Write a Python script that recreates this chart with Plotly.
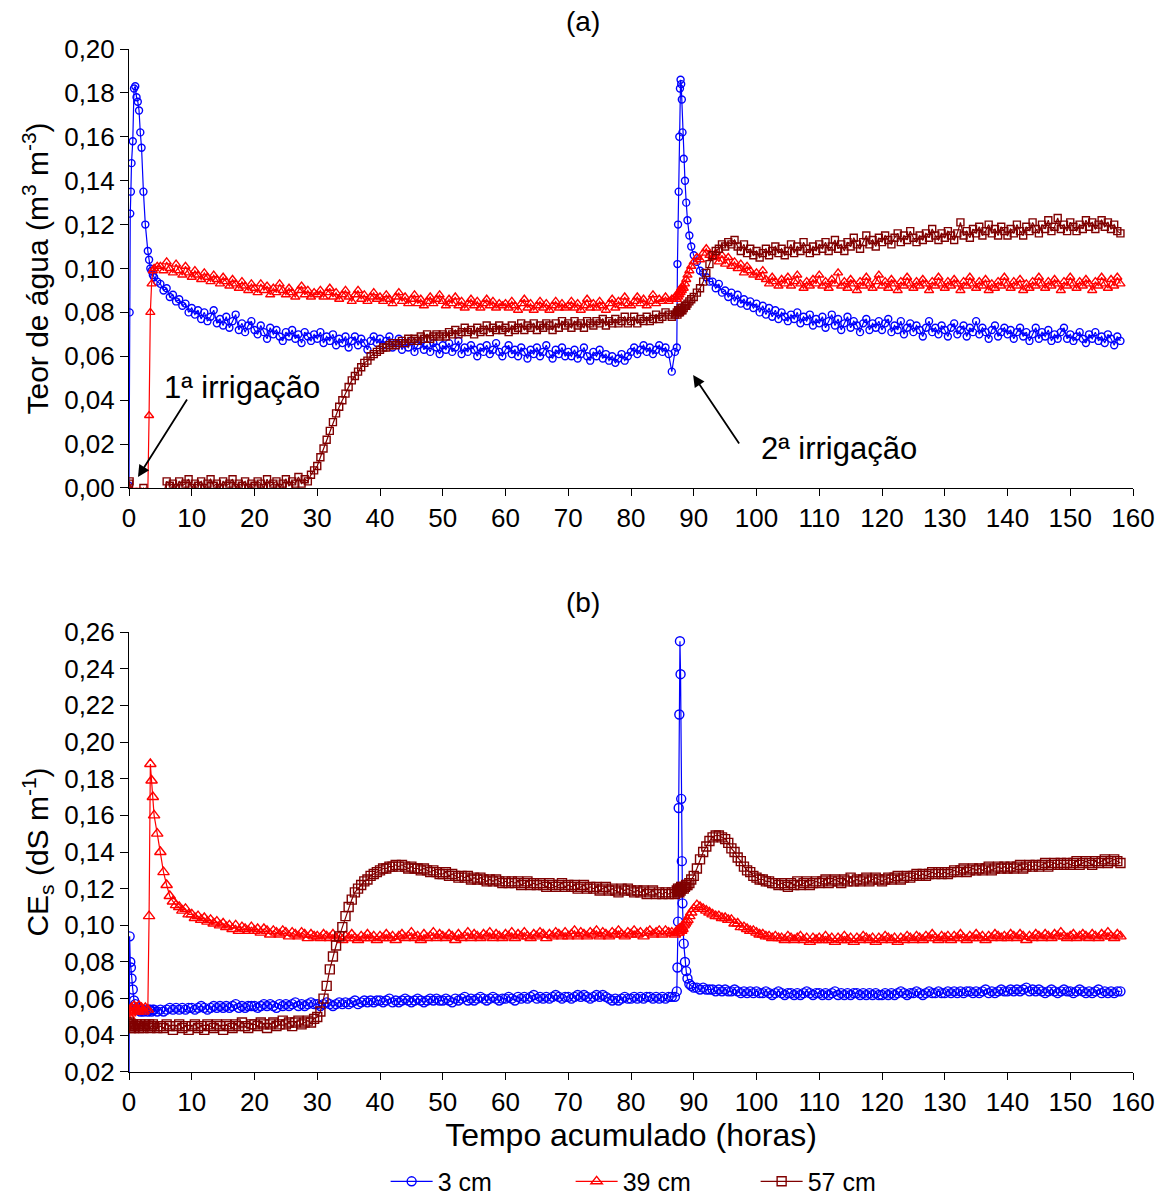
import plotly.graph_objects as go

# ---------------- time grid (hours) ----------------
hours_start = [0, 0.1, 0.2, 0.3, 0.4, 0.6, 0.8, 1.0, 1.2, 1.4, 1.6, 1.8, 2.0, 2.3, 2.6,
               3.0, 3.2, 3.4, 3.6, 3.8, 4.0, 4.5]
hours_mid = [5 + 0.5 * k for k in range(163)]          # 5.0 ... 86.0, half-hourly readings
hours_irr2 = [86.5, 87.0, 87.3, 87.4, 87.5, 87.6, 87.7, 87.8, 87.9, 88.0, 88.1, 88.2,
              88.4, 88.6, 88.8, 89.0, 89.3, 89.6, 90.0, 90.5, 91.0, 91.5, 92.0, 92.5]
hours_end = [93 + 0.5 * k for k in range(131)]         # 93.0 ... 158.0, half-hourly readings
hours = hours_start + hours_mid + hours_irr2 + hours_end

# ---------------- (a) water content, m3 m-3 ----------------
theta_3cm = [
    0.001, 0.080, 0.125, 0.135, 0.148, 0.158, 0.182, 0.183, 0.178, 0.176, 0.172, 0.162, 0.155, 0.135, 0.120,
    0.108, 0.104, 0.100, 0.099, 0.097, 0.096, 0.094,
    0.093, 0.090, 0.091, 0.087, 0.088, 0.085, 0.086, 0.083, 0.084, 0.080,
    0.082, 0.079, 0.081, 0.077, 0.080, 0.076, 0.078, 0.081, 0.075, 0.077, 0.074, 0.078, 0.073, 0.076, 0.079, 0.072, 0.075, 0.071, 0.074, 0.076,
    0.072, 0.070, 0.074, 0.071, 0.068, 0.073, 0.070, 0.072, 0.069, 0.067, 0.071, 0.069, 0.072, 0.068, 0.070, 0.066, 0.071, 0.069, 0.067, 0.070,
    0.068, 0.071, 0.066, 0.069, 0.067, 0.070, 0.065, 0.068, 0.066, 0.069, 0.064, 0.067, 0.069, 0.065, 0.068, 0.066, 0.063, 0.067, 0.069, 0.066,
    0.068, 0.065, 0.067, 0.069, 0.064, 0.066, 0.068, 0.063, 0.066, 0.064, 0.067, 0.062, 0.065, 0.067, 0.063, 0.065, 0.062, 0.066, 0.064, 0.061,
    0.065, 0.063, 0.066, 0.062, 0.064, 0.067, 0.061, 0.064, 0.062, 0.065, 0.063, 0.060, 0.064, 0.062, 0.065, 0.061, 0.063, 0.066, 0.062, 0.060,
    0.063, 0.065, 0.061, 0.063, 0.060, 0.064, 0.062, 0.059, 0.063, 0.061, 0.064, 0.060, 0.062, 0.065, 0.061, 0.059, 0.063, 0.061, 0.064, 0.060,
    0.062, 0.060, 0.063, 0.059, 0.061, 0.064, 0.060, 0.058, 0.062, 0.060, 0.063, 0.059, 0.061, 0.058, 0.060, 0.057, 0.059, 0.061, 0.058, 0.060,
    0.062, 0.064, 0.061, 0.063, 0.065, 0.062, 0.064, 0.061, 0.063, 0.065, 0.062, 0.064, 0.061,
    0.053, 0.062, 0.064, 0.102, 0.120, 0.135, 0.160, 0.182, 0.186, 0.184, 0.177, 0.162,
    0.150, 0.140, 0.130, 0.122, 0.115, 0.110, 0.106, 0.103, 0.099, 0.098, 0.096, 0.094,
    0.094, 0.091, 0.093, 0.089, 0.090, 0.087, 0.089, 0.085, 0.088, 0.084, 0.086, 0.083, 0.085, 0.082,
    0.084, 0.080, 0.083, 0.079, 0.082, 0.078, 0.081, 0.077, 0.080, 0.078, 0.076, 0.079, 0.077, 0.080, 0.075, 0.078, 0.076, 0.079, 0.074, 0.077,
    0.075, 0.078, 0.073, 0.076, 0.079, 0.074, 0.077, 0.072, 0.075, 0.078, 0.073, 0.076, 0.074, 0.071, 0.075, 0.077, 0.072, 0.075, 0.073, 0.076,
    0.072, 0.075, 0.077, 0.071, 0.074, 0.072, 0.076, 0.070, 0.073, 0.075, 0.071, 0.074, 0.072, 0.069, 0.073, 0.076, 0.071, 0.073, 0.070, 0.074,
    0.072, 0.069, 0.073, 0.075, 0.070, 0.072, 0.074, 0.069, 0.073, 0.071, 0.076, 0.070, 0.073, 0.071, 0.068, 0.072, 0.074, 0.069, 0.071, 0.073,
    0.070, 0.072, 0.068, 0.071, 0.073, 0.069, 0.071, 0.067, 0.070, 0.073, 0.068, 0.071, 0.069, 0.072, 0.067, 0.070, 0.068, 0.071, 0.073, 0.068,
    0.070, 0.067, 0.069, 0.071, 0.068, 0.066, 0.070, 0.068, 0.071, 0.067, 0.069, 0.066, 0.070, 0.068, 0.065, 0.069, 0.067,
]
theta_39cm = [
    0.000, -0.002, -0.002, -0.002, -0.002, -0.002, -0.002, -0.002, -0.002, -0.002, -0.002, -0.002, -0.002,
    -0.002, -0.002, -0.002, 0.033, 0.080, 0.093, 0.099, 0.100, 0.101,
    0.101, 0.099, 0.103, 0.100, 0.098, 0.102, 0.099, 0.097, 0.101, 0.098,
    0.096, 0.099, 0.097, 0.095, 0.098, 0.096, 0.094, 0.097, 0.095, 0.093, 0.096, 0.094, 0.092, 0.095, 0.093, 0.091, 0.094, 0.092, 0.090, 0.093,
    0.091, 0.089, 0.093, 0.090, 0.092, 0.088, 0.091, 0.089, 0.093, 0.090, 0.088, 0.091, 0.089, 0.087, 0.090, 0.092, 0.088, 0.090, 0.087, 0.089,
    0.088, 0.090, 0.087, 0.089, 0.091, 0.087, 0.089, 0.086, 0.088, 0.090, 0.087, 0.085, 0.088, 0.090, 0.086, 0.088, 0.085, 0.087, 0.089, 0.086,
    0.087, 0.085, 0.088, 0.086, 0.084, 0.087, 0.089, 0.085, 0.087, 0.084, 0.086, 0.088, 0.084, 0.086, 0.083, 0.085, 0.087, 0.084, 0.086, 0.088,
    0.085, 0.083, 0.086, 0.084, 0.087, 0.083, 0.085, 0.082, 0.084, 0.086, 0.083, 0.085, 0.082, 0.084, 0.086, 0.083, 0.085, 0.082, 0.084, 0.083,
    0.084, 0.082, 0.085, 0.083, 0.081, 0.084, 0.086, 0.082, 0.084, 0.081, 0.083, 0.085, 0.082, 0.084, 0.081, 0.083, 0.085, 0.082, 0.084, 0.082,
    0.083, 0.085, 0.082, 0.084, 0.081, 0.083, 0.086, 0.082, 0.084, 0.082, 0.085, 0.083, 0.081, 0.084, 0.086, 0.082, 0.085, 0.083, 0.087, 0.084,
    0.083, 0.085, 0.087, 0.084, 0.086, 0.083, 0.085, 0.088, 0.084, 0.086, 0.085, 0.087, 0.085,
    0.086, 0.087, 0.086, 0.088, 0.087, 0.089, 0.088, 0.090, 0.089, 0.091, 0.090, 0.092,
    0.091, 0.093, 0.095, 0.097, 0.099, 0.101, 0.103, 0.105, 0.104, 0.107, 0.109, 0.106,
    0.105, 0.107, 0.103, 0.106, 0.102, 0.105, 0.101, 0.103, 0.100, 0.102, 0.098, 0.101, 0.099, 0.097,
    0.098, 0.096, 0.099, 0.095, 0.093, 0.096, 0.094, 0.092, 0.095, 0.093, 0.096, 0.092, 0.094, 0.097, 0.093, 0.091, 0.094, 0.092, 0.095, 0.093,
    0.097, 0.092, 0.094, 0.091, 0.095, 0.093, 0.098, 0.092, 0.094, 0.091, 0.095, 0.093, 0.090, 0.094, 0.092, 0.096, 0.093, 0.091, 0.094, 0.097,
    0.092, 0.094, 0.091, 0.095, 0.093, 0.090, 0.094, 0.092, 0.096, 0.093, 0.091, 0.094, 0.092, 0.095, 0.093, 0.090, 0.094, 0.092, 0.096, 0.093,
    0.091, 0.094, 0.092, 0.095, 0.093, 0.090, 0.094, 0.092, 0.096, 0.093, 0.091, 0.094, 0.092, 0.095, 0.090, 0.093, 0.091, 0.094, 0.092, 0.096,
    0.093, 0.091, 0.094, 0.092, 0.095, 0.090, 0.093, 0.091, 0.094, 0.092, 0.096, 0.093, 0.091, 0.094, 0.092, 0.095, 0.093, 0.090, 0.094, 0.092,
    0.096, 0.093, 0.091, 0.094, 0.092, 0.095, 0.093, 0.090, 0.094, 0.092, 0.096, 0.093, 0.091, 0.095, 0.092, 0.096, 0.093,
]
theta_57cm = [
    0.002, 0.003, -0.003, -0.003, -0.003, -0.003, -0.003, -0.003, -0.003, -0.003, -0.003, -0.003, -0.003,
    0.000, -0.003, -0.003, -0.003, -0.003, -0.003, -0.003, -0.003, -0.003,
    -0.003, -0.003, 0.003, 0.001, 0.002, 0.000, 0.003, 0.001, 0.002, 0.004,
    0.000, 0.002, 0.001, 0.003, 0.000, 0.002, 0.004, 0.001, 0.002, 0.000, 0.003, 0.001, 0.002, 0.004, 0.000, 0.002, 0.001, 0.003, 0.000, 0.002,
    0.001, 0.003, 0.002, 0.000, 0.004, 0.001, 0.002, 0.003, 0.000, 0.002, 0.004, 0.001, 0.003, 0.002, 0.005, 0.002, 0.004, 0.003, 0.006, 0.008,
    0.010, 0.014, 0.018, 0.022, 0.026, 0.030, 0.034, 0.037, 0.040, 0.043, 0.046, 0.049, 0.051, 0.053, 0.055, 0.057, 0.058, 0.060, 0.061, 0.062,
    0.063, 0.064, 0.064, 0.065, 0.066, 0.065, 0.066, 0.067, 0.066, 0.068, 0.067, 0.068, 0.067, 0.069, 0.068, 0.070, 0.068, 0.069, 0.070, 0.069,
    0.070, 0.069, 0.071, 0.070, 0.072, 0.070, 0.071, 0.073, 0.071, 0.072, 0.070, 0.073, 0.071, 0.072, 0.074, 0.071, 0.073, 0.072, 0.074, 0.072,
    0.073, 0.071, 0.074, 0.072, 0.073, 0.075, 0.072, 0.074, 0.073, 0.075, 0.072, 0.074, 0.073, 0.075, 0.074, 0.072, 0.075, 0.073, 0.076, 0.074,
    0.075, 0.073, 0.076, 0.074, 0.075, 0.073, 0.076, 0.075, 0.074, 0.076, 0.075, 0.077, 0.074, 0.076, 0.075, 0.077, 0.075, 0.076, 0.078, 0.075,
    0.076, 0.078, 0.075, 0.077, 0.076, 0.078, 0.076, 0.077, 0.079, 0.077, 0.078, 0.080, 0.079,
    0.078, 0.079, 0.080, 0.079, 0.081, 0.080, 0.081, 0.080, 0.082, 0.081, 0.082, 0.081,
    0.082, 0.083, 0.083, 0.084, 0.085, 0.086, 0.087, 0.089, 0.091, 0.094, 0.098, 0.102,
    0.106, 0.108, 0.109, 0.111, 0.110, 0.112, 0.111, 0.113, 0.110, 0.108, 0.111, 0.107, 0.109, 0.106,
    0.108, 0.105, 0.107, 0.109, 0.106, 0.108, 0.110, 0.107, 0.109, 0.106, 0.108, 0.111, 0.107, 0.110, 0.108, 0.112, 0.109, 0.107, 0.110, 0.108,
    0.111, 0.109, 0.112, 0.108, 0.110, 0.113, 0.109, 0.111, 0.108, 0.112, 0.110, 0.114, 0.111, 0.109, 0.112, 0.115, 0.111, 0.113, 0.110, 0.114,
    0.112, 0.115, 0.113, 0.111, 0.114, 0.116, 0.112, 0.115, 0.113, 0.117, 0.114, 0.112, 0.115, 0.113, 0.116, 0.114, 0.118, 0.115, 0.113, 0.116,
    0.114, 0.117, 0.115, 0.113, 0.116, 0.121, 0.115, 0.117, 0.114, 0.118, 0.116, 0.119, 0.115, 0.117, 0.120, 0.116, 0.118, 0.115, 0.119, 0.117,
    0.115, 0.118, 0.116, 0.120, 0.117, 0.115, 0.119, 0.117, 0.121, 0.118, 0.116, 0.120, 0.118, 0.122, 0.117, 0.119, 0.123, 0.118, 0.120, 0.117,
    0.121, 0.119, 0.117, 0.120, 0.118, 0.122, 0.119, 0.121, 0.118, 0.120, 0.122, 0.119, 0.121, 0.118, 0.120, 0.117, 0.116,
]

# ---------------- (b) CEs, dS m-1 ----------------
ce_3cm = [
    0.010, 0.094, 0.080, 0.077, 0.071, 0.065, 0.059, 0.057, 0.055, 0.054, 0.054, 0.053, 0.054, 0.053, 0.054,
    0.053, 0.054, 0.054, 0.053, 0.054, 0.054, 0.053,
    0.054, 0.053, 0.054, 0.055, 0.054, 0.055, 0.054, 0.055, 0.054, 0.055,
    0.055, 0.054, 0.055, 0.056, 0.055, 0.054, 0.055, 0.056, 0.055, 0.056, 0.055, 0.056, 0.055, 0.056, 0.057, 0.055, 0.056, 0.055, 0.056, 0.056,
    0.056, 0.055, 0.056, 0.057, 0.056, 0.057, 0.056, 0.055, 0.057, 0.056, 0.057, 0.056, 0.057, 0.058, 0.056, 0.057, 0.056, 0.057, 0.058, 0.057,
    0.057, 0.056, 0.057, 0.058, 0.057, 0.056, 0.057, 0.058, 0.057, 0.058, 0.057, 0.058, 0.059, 0.057, 0.058, 0.059, 0.058, 0.059, 0.058, 0.059,
    0.059, 0.058, 0.059, 0.060, 0.058, 0.059, 0.058, 0.059, 0.060, 0.059, 0.058, 0.059, 0.060, 0.059, 0.058, 0.059, 0.060, 0.059, 0.060, 0.059,
    0.059, 0.060, 0.059, 0.058, 0.060, 0.059, 0.060, 0.061, 0.059, 0.060, 0.059, 0.060, 0.061, 0.060, 0.059, 0.060, 0.061, 0.060, 0.059, 0.060,
    0.060, 0.061, 0.060, 0.059, 0.061, 0.060, 0.061, 0.060, 0.061, 0.062, 0.060, 0.061, 0.060, 0.061, 0.060, 0.061, 0.062, 0.061, 0.060, 0.061,
    0.061, 0.060, 0.061, 0.062, 0.061, 0.062, 0.061, 0.060, 0.061, 0.062, 0.061, 0.062, 0.061, 0.060, 0.059, 0.060, 0.059, 0.060, 0.061, 0.060,
    0.060, 0.061, 0.060, 0.061, 0.060, 0.061, 0.061, 0.060, 0.061, 0.060, 0.061, 0.060, 0.061,
    0.061, 0.061, 0.064, 0.077, 0.102, 0.164, 0.215, 0.255, 0.237, 0.169, 0.135, 0.112,
    0.090, 0.080, 0.075, 0.071, 0.068, 0.067, 0.066, 0.066, 0.065, 0.066, 0.065, 0.065,
    0.065, 0.064, 0.065, 0.064, 0.065, 0.064, 0.064, 0.065, 0.064, 0.063, 0.064, 0.063, 0.064, 0.063,
    0.064, 0.063, 0.063, 0.064, 0.063, 0.062, 0.063, 0.064, 0.063, 0.062, 0.063, 0.063, 0.062, 0.063, 0.062, 0.063, 0.064, 0.063, 0.062, 0.063,
    0.063, 0.062, 0.063, 0.062, 0.063, 0.064, 0.062, 0.063, 0.062, 0.063, 0.062, 0.063, 0.063, 0.062, 0.063, 0.062, 0.063, 0.062, 0.063, 0.062,
    0.062, 0.063, 0.062, 0.063, 0.062, 0.063, 0.064, 0.063, 0.062, 0.063, 0.063, 0.064, 0.063, 0.062, 0.063, 0.064, 0.063, 0.063, 0.064, 0.063,
    0.063, 0.064, 0.063, 0.064, 0.063, 0.064, 0.063, 0.064, 0.064, 0.063, 0.064, 0.063, 0.064, 0.065, 0.063, 0.064, 0.063, 0.064, 0.065, 0.064,
    0.064, 0.065, 0.064, 0.065, 0.064, 0.065, 0.066, 0.064, 0.065, 0.064, 0.065, 0.064, 0.063, 0.064, 0.065, 0.064, 0.063, 0.064, 0.065, 0.064,
    0.064, 0.063, 0.064, 0.065, 0.064, 0.063, 0.064, 0.063, 0.064, 0.065, 0.063, 0.064, 0.063, 0.064, 0.063, 0.064, 0.064,
]
ce_39cm = [
    0.048, 0.050, 0.052, 0.053, 0.055, 0.054, 0.056, 0.054, 0.055, 0.053, 0.056, 0.054, 0.055, 0.053, 0.055,
    0.054, 0.105, 0.188, 0.179, 0.170, 0.160, 0.150,
    0.140, 0.129, 0.122, 0.116, 0.113, 0.111, 0.110, 0.108, 0.109, 0.106,
    0.106, 0.104, 0.105, 0.103, 0.104, 0.102, 0.103, 0.101, 0.102, 0.100, 0.101, 0.099, 0.100, 0.098, 0.100, 0.097, 0.099, 0.098, 0.097, 0.099,
    0.097, 0.098, 0.096, 0.098, 0.097, 0.095, 0.097, 0.096, 0.095, 0.097, 0.096, 0.094, 0.096, 0.095, 0.094, 0.096, 0.095, 0.093, 0.095, 0.094,
    0.094, 0.093, 0.095, 0.094, 0.093, 0.095, 0.093, 0.094, 0.092, 0.094, 0.093, 0.095, 0.093, 0.092, 0.094, 0.093, 0.095, 0.093, 0.094, 0.092,
    0.094, 0.093, 0.095, 0.093, 0.094, 0.092, 0.094, 0.095, 0.093, 0.094, 0.096, 0.093, 0.094, 0.092, 0.095, 0.093, 0.094, 0.096, 0.093, 0.095,
    0.094, 0.093, 0.095, 0.094, 0.092, 0.095, 0.093, 0.094, 0.096, 0.093, 0.095, 0.094, 0.093, 0.095, 0.094, 0.096, 0.093, 0.095, 0.094, 0.093,
    0.095, 0.094, 0.096, 0.093, 0.095, 0.094, 0.096, 0.094, 0.093, 0.095, 0.094, 0.096, 0.095, 0.093, 0.095, 0.094, 0.096, 0.095, 0.094, 0.096,
    0.094, 0.095, 0.097, 0.094, 0.096, 0.095, 0.094, 0.096, 0.095, 0.097, 0.094, 0.096, 0.095, 0.094, 0.096, 0.095, 0.097, 0.095, 0.094, 0.096,
    0.095, 0.097, 0.095, 0.096, 0.094, 0.096, 0.097, 0.095, 0.096, 0.097, 0.095, 0.097, 0.096,
    0.096, 0.095, 0.097, 0.096, 0.097, 0.096, 0.098, 0.097, 0.098, 0.097, 0.099, 0.098,
    0.100, 0.101, 0.102, 0.103, 0.105, 0.107, 0.109, 0.111, 0.110, 0.109, 0.108, 0.107,
    0.106, 0.105, 0.105, 0.104, 0.104, 0.103, 0.103, 0.101, 0.101, 0.099, 0.099, 0.098, 0.097, 0.097,
    0.096, 0.095, 0.095, 0.094, 0.094, 0.093, 0.094, 0.093, 0.093, 0.092, 0.094, 0.093, 0.092, 0.093, 0.094, 0.092, 0.093, 0.091, 0.093, 0.092,
    0.093, 0.092, 0.094, 0.092, 0.093, 0.091, 0.093, 0.092, 0.094, 0.092, 0.093, 0.091, 0.093, 0.092, 0.094, 0.093, 0.092, 0.093, 0.091, 0.093,
    0.092, 0.094, 0.093, 0.092, 0.093, 0.091, 0.093, 0.092, 0.094, 0.093, 0.092, 0.094, 0.093, 0.092, 0.094, 0.093, 0.095, 0.093, 0.092, 0.094,
    0.093, 0.094, 0.092, 0.094, 0.093, 0.095, 0.093, 0.092, 0.094, 0.093, 0.095, 0.093, 0.094, 0.092, 0.094, 0.093, 0.095, 0.094, 0.093, 0.094,
    0.093, 0.095, 0.094, 0.093, 0.095, 0.094, 0.092, 0.094, 0.093, 0.095, 0.094, 0.093, 0.095, 0.094, 0.093, 0.095, 0.094, 0.096, 0.094, 0.093,
    0.094, 0.095, 0.093, 0.094, 0.095, 0.094, 0.093, 0.095, 0.094, 0.093, 0.095, 0.094, 0.096, 0.094, 0.093, 0.095, 0.094,
]
ce_57cm = [
    0.047, 0.046, 0.045, 0.044, 0.045, 0.046, 0.044, 0.045, 0.046, 0.045, 0.044, 0.046, 0.045, 0.044, 0.046,
    0.045, 0.046, 0.044, 0.045, 0.046, 0.045, 0.044,
    0.045, 0.044, 0.046, 0.045, 0.043, 0.045, 0.046, 0.044, 0.045, 0.043,
    0.045, 0.046, 0.044, 0.045, 0.043, 0.046, 0.045, 0.044, 0.046, 0.045, 0.043, 0.046, 0.045, 0.044, 0.046, 0.045, 0.047, 0.045, 0.044, 0.046,
    0.046, 0.045, 0.047, 0.046, 0.044, 0.046, 0.047, 0.045, 0.046, 0.048, 0.046, 0.047, 0.045, 0.047, 0.048, 0.046, 0.047, 0.048, 0.047, 0.049,
    0.050, 0.053, 0.060, 0.067, 0.076, 0.083, 0.089, 0.094, 0.099, 0.105, 0.110, 0.114, 0.118, 0.120, 0.122, 0.124, 0.125, 0.127, 0.128, 0.129,
    0.130, 0.131, 0.131, 0.132, 0.132, 0.133, 0.132, 0.133, 0.132, 0.131, 0.132, 0.131, 0.131, 0.130, 0.131, 0.130, 0.129, 0.130, 0.129, 0.128,
    0.128, 0.129, 0.127, 0.128, 0.127, 0.126, 0.127, 0.126, 0.127, 0.125, 0.126, 0.125, 0.126, 0.125, 0.124, 0.125, 0.124, 0.125, 0.124, 0.123,
    0.124, 0.123, 0.124, 0.123, 0.124, 0.122, 0.123, 0.124, 0.122, 0.123, 0.122, 0.123, 0.122, 0.121, 0.123, 0.122, 0.121, 0.122, 0.123, 0.121,
    0.122, 0.121, 0.122, 0.120, 0.121, 0.122, 0.120, 0.121, 0.120, 0.121, 0.119, 0.120, 0.121, 0.119, 0.120, 0.119, 0.118, 0.120, 0.119, 0.120,
    0.119, 0.118, 0.119, 0.118, 0.119, 0.117, 0.118, 0.119, 0.117, 0.118, 0.117, 0.118, 0.117,
    0.118, 0.117, 0.119, 0.118, 0.120, 0.119, 0.118, 0.120, 0.119, 0.121, 0.120, 0.121,
    0.120, 0.121, 0.122, 0.122, 0.123, 0.125, 0.127, 0.131, 0.136, 0.140, 0.143, 0.146,
    0.148, 0.149, 0.149, 0.148, 0.147, 0.145, 0.142, 0.140, 0.137, 0.135, 0.132, 0.130, 0.129, 0.127,
    0.126, 0.125, 0.125, 0.124, 0.124, 0.123, 0.123, 0.122, 0.123, 0.122, 0.121, 0.123, 0.122, 0.124, 0.122, 0.123, 0.124, 0.122, 0.123, 0.124,
    0.123, 0.124, 0.125, 0.123, 0.124, 0.125, 0.124, 0.123, 0.125, 0.124, 0.126, 0.124, 0.125, 0.124, 0.125, 0.126, 0.124, 0.125, 0.126, 0.125,
    0.124, 0.125, 0.126, 0.125, 0.126, 0.127, 0.125, 0.126, 0.127, 0.126, 0.127, 0.128, 0.127, 0.128, 0.127, 0.128, 0.129, 0.128, 0.129, 0.128,
    0.129, 0.128, 0.129, 0.130, 0.129, 0.130, 0.131, 0.129, 0.130, 0.131, 0.130, 0.131, 0.130, 0.131, 0.132, 0.130, 0.131, 0.132, 0.131, 0.132,
    0.131, 0.132, 0.131, 0.132, 0.133, 0.131, 0.132, 0.133, 0.132, 0.133, 0.132, 0.133, 0.134, 0.132, 0.133, 0.134, 0.133, 0.134, 0.133, 0.134,
    0.133, 0.134, 0.135, 0.133, 0.134, 0.135, 0.134, 0.133, 0.135, 0.134, 0.135, 0.136, 0.134, 0.135, 0.136, 0.135, 0.134,
]

for name, arr in [("theta_3cm", theta_3cm), ("theta_39cm", theta_39cm), ("theta_57cm", theta_57cm),
                  ("ce_3cm", ce_3cm), ("ce_39cm", ce_39cm), ("ce_57cm", ce_57cm)]:
    if len(arr) != len(hours):
        raise ValueError(f"{name}: {len(arr)} values vs {len(hours)} hours")

series_names = ["3 cm", "39 cm", "57 cm"]
colors = ["#0000FF", "#FF0000", "#800000"]
symbols = ["circle-open", "triangle-up-open", "square-open"]
size_a = [7, 8, 7]
size_b = [9, 10, 9]

FONT = "Liberation Sans, Arial, sans-serif"
fig = go.Figure()

for i, ya in enumerate([theta_3cm, theta_39cm, theta_57cm]):
    fig.add_trace(go.Scatter(
        x=hours, y=ya, mode="lines+markers", name=series_names[i], showlegend=False,
        line=dict(color=colors[i], width=1.2),
        marker=dict(symbol=symbols[i], size=size_a[i], color=colors[i], line=dict(color=colors[i], width=1.4)),
        xaxis="x", yaxis="y"))
for i, yb in enumerate([ce_3cm, ce_39cm, ce_57cm]):
    fig.add_trace(go.Scatter(
        x=hours, y=yb, mode="lines+markers", name=series_names[i], showlegend=True,
        line=dict(color=colors[i], width=1.2),
        marker=dict(symbol=symbols[i], size=size_b[i], color=colors[i], line=dict(color=colors[i], width=1.4)),
        xaxis="x2", yaxis="y2"))

axis_common = dict(showline=True, linecolor="#000000", linewidth=1, ticks="outside",
                   tickcolor="#000000", tickwidth=1, showgrid=False, zeroline=False, automargin=False,
                   tickfont=dict(family=FONT, size=26, color="#000000"))

fig.update_layout(
    width=1163, height=1202, autosize=False,
    margin=dict(l=129, r=30, t=49, b=130),
    paper_bgcolor="white", plot_bgcolor="white",
    separators=", ",
    font=dict(family=FONT, color="#000000"),
    xaxis=dict(domain=[0, 1], anchor="y", range=[0, 160], dtick=10, tick0=0, ticklen=7, **axis_common),
    yaxis=dict(domain=[0.5709, 1], anchor="x", range=[0, 0.2], dtick=0.02, tickformat=".2f", ticklen=8,
               title=dict(text="Teor de água (m<sup>3</sup> m<sup>-3</sup>)",
                          font=dict(family=FONT, size=30), standoff=6),
               **axis_common),
    xaxis2=dict(domain=[0, 1], anchor="y2", range=[0, 160], dtick=10, tick0=0, ticklen=7,
                title=dict(text="Tempo acumulado (horas)", font=dict(family=FONT, size=32), standoff=2),
                **axis_common),
    yaxis2=dict(domain=[0, 0.4301], anchor="x2", range=[0.02, 0.26], dtick=0.02, tickformat=".2f", ticklen=8,
                title=dict(text="CE<sub>s</sub> (dS m<sup>-1</sup>)",
                           font=dict(family=FONT, size=30), standoff=6),
                **axis_common),
    legend=dict(orientation="h", x=0.532, xanchor="center", yref="container", y=0.017, yanchor="middle",
                font=dict(family=FONT, size=25, color="#000000"), itemwidth=42,
                entrywidth=128, entrywidthmode="pixels", bgcolor="rgba(0,0,0,0)"),
    annotations=[
        dict(text="(a)", xref="paper", yref="paper", x=0.452, y=1.0264, xanchor="center", yanchor="middle",
             showarrow=False, font=dict(family=FONT, size=28)),
        dict(text="(b)", xref="paper", yref="paper", x=0.452, y=0.4594, xanchor="center", yanchor="middle",
             showarrow=False, font=dict(family=FONT, size=28)),
        dict(text="1ª irrigação", xref="x", yref="y", x=18.0, y=0.0456, showarrow=False,
             font=dict(family=FONT, size=31)),
        dict(text="2ª irrigação", xref="x", yref="y", x=113.2, y=0.0178, showarrow=False,
             font=dict(family=FONT, size=31)),
        dict(text="", xref="x", yref="y", x=1.43, y=0.005, ax=50, ay=-79, showarrow=True,
             arrowhead=2, arrowsize=1.3, arrowwidth=1.8, arrowcolor="#000000"),
        dict(text="", xref="x", yref="y", x=89.9, y=0.0515, ax=47, ay=70, showarrow=True,
             arrowhead=2, arrowsize=1.3, arrowwidth=1.8, arrowcolor="#000000"),
    ],
)

fig.write_html("out.html")
